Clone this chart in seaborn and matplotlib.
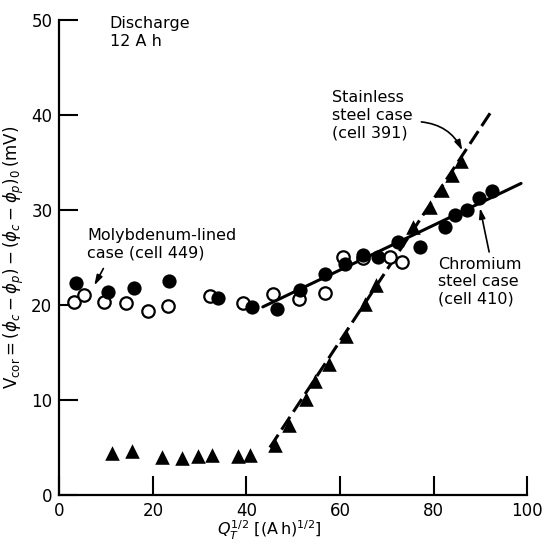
import seaborn as sns
import matplotlib.pyplot as plt

# Molybdenum-lined case (cell 449) - open circles
mo_x = [3.1, 5.2, 9.5, 14.2, 18.9, 23.2, 32.2, 39.2, 45.6, 51.2, 56.7, 60.6, 64.9, 70.6, 73.2]
mo_y = [20.3, 21.1, 20.3, 20.2, 19.4, 19.9, 20.9, 20.2, 21.2, 20.6, 21.3, 25.1, 24.9, 25.1, 24.5]

# Chromium steel case (cell 410) - filled circles
cr_x = [3.5, 10.4, 15.9, 23.4, 33.9, 41.1, 46.5, 51.4, 56.7, 61.0, 64.9, 68.1, 72.3, 77.0,
        82.4, 84.5, 87.1, 89.8, 92.4]
cr_y = [22.3, 21.4, 21.8, 22.5, 20.7, 19.8, 19.6, 21.6, 23.3, 24.3, 25.3, 25.1, 26.6, 26.1,
        28.2, 29.5, 30.0, 31.3, 32.0]

# Stainless steel case (cell 391) - filled triangles
ss_x = [11.2, 15.5, 21.9, 26.2, 29.6, 32.6, 38.1, 40.7, 46.0, 49.2, 52.7, 54.6, 57.6, 61.2,
        65.3, 67.8, 75.5, 79.2, 81.7, 83.9, 85.8]
ss_y = [4.4, 4.6, 4.0, 3.9, 4.1, 4.2, 4.1, 4.2, 5.3, 7.4, 10.1, 12.0, 13.8, 16.7,
        20.1, 22.1, 28.2, 30.3, 32.1, 33.7, 35.2]

# fitted lines (end points)
cr_fit_x = [43.5, 98.7]
cr_fit_y = [19.8, 32.8]
ss_fit_x = [45.0, 92.5]
ss_fit_y = [5.0, 40.5]

sns.set_style('ticks')
plt.rcParams['font.family'] = ['DejaVu Sans']
plt.rcParams['mathtext.fontset'] = 'dejavusans'
for k in ['text.color', 'axes.labelcolor', 'xtick.color', 'ytick.color', 'axes.edgecolor']:
    plt.rcParams[k] = 'black'

fig = plt.figure(figsize=(5.44, 5.48), dpi=100)
ax = fig.add_axes([0.109, 0.0967, 0.86, 0.8668])

# lines
sns.lineplot(x=cr_fit_x, y=cr_fit_y, ax=ax, color='black', lw=2.2, zorder=1)
sns.lineplot(x=ss_fit_x, y=ss_fit_y, ax=ax, color='black', lw=2.2,
             linestyle=(0, (5, 2)), zorder=1)

# points
sns.scatterplot(x=mo_x, y=mo_y, ax=ax, marker='o', s=80, color='white',
                edgecolor='black', linewidth=1.6, zorder=2)
sns.scatterplot(x=cr_x, y=cr_y, ax=ax, marker='o', s=105, color='black',
                edgecolor='black', linewidth=0, zorder=3)
sns.scatterplot(x=ss_x, y=ss_y, ax=ax, marker='^', s=110, color='black',
                edgecolor='black', linewidth=0, zorder=3)

ax.set_xlim(0, 100)
ax.set_ylim(0, 50)
ax.set_xticks([0, 20, 40, 60, 80, 100])
ax.set_yticks([0, 10, 20, 30, 40, 50])
sns.despine(ax=ax)
for s in ['left', 'bottom']:
    ax.spines[s].set_linewidth(1.6)
ax.tick_params(direction='in', length=14, width=1.5, labelsize=12, pad=5)

ax.set_xlabel(r'$Q_T^{1/2}\ [(\mathrm{A\,h})^{1/2}]$', fontsize=11.5)
ax.xaxis.set_label_coords(0.448, -0.05)
ax.set_ylabel(r'$\mathrm{V_{cor}} = (\phi_c - \phi_p) - (\phi_c - \phi_p)_0\,(\mathrm{mV})$',
              fontsize=12)
ax.yaxis.set_label_coords(-0.072, 0.5)

fs = 11.5
ax.text(10.8, 50.4, 'Discharge\n12 A h', fontsize=fs, va='top', ha='left')
ax.text(58.2, 42.6, 'Stainless\nsteel case\n(cell 391)', fontsize=fs, va='top', ha='left')
ax.text(5.9, 28.1, 'Molybdenum-lined\ncase (cell 449)', fontsize=fs, va='top', ha='left')
ax.text(80.9, 25.1, 'Chromium\nsteel case\n(cell 410)', fontsize=fs, va='top', ha='left')

arrow = dict(arrowstyle='-|>,head_length=0.6,head_width=0.18', color='black', lw=1.2)
ax.annotate('', xy=(86.4, 36.0), xytext=(76.8, 39.3),
            arrowprops=dict(arrow, connectionstyle='arc3,rad=-0.3'))
ax.annotate('', xy=(7.2, 21.8), xytext=(9.7, 24.1), arrowprops=arrow)
ax.annotate('', xy=(89.8, 30.5), xytext=(92.0, 25.3), arrowprops=arrow)

plt.savefig('out.png', dpi=100)
